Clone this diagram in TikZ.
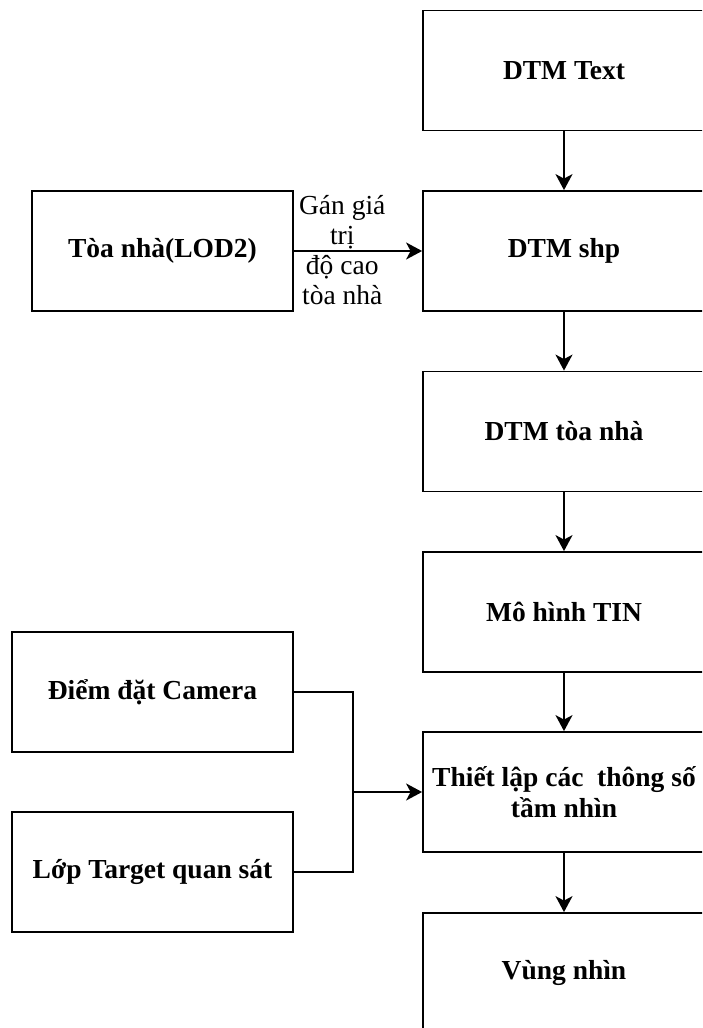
\documentclass[tikz,border=0pt]{standalone}
\usepackage{fontspec}
\setmainfont{Liberation Serif}
\usetikzlibrary{arrows.meta}
\begin{document}
\begin{tikzpicture}[x=1pt,y=-1pt,
  box/.style={draw, line width=1.8pt, minimum width=282pt, minimum height=120pt, inner sep=0pt,
    font=\fontsize{27.5}{31}\selectfont\bfseries, align=center},
  conn/.style={line width=1.8pt, -{Stealth[length=16pt,width=17pt,inset=4.5pt]}},
  line/.style={line width=1.8pt},
  lbl/.style={font=\fontsize{27.5}{30}\selectfont, align=center, inner sep=0pt}
]
\useasboundingbox (0,0) rectangle (702,1028);
\clip (0,0) rectangle (702,1028);
\node[box] (text) at (564,70.5) {DTM Text};
\node[box] (shp) at (564,251) {DTM shp};
\node[box] (dtmtn) at (564,431.5) {DTM tòa nhà};
\node[box] (tin) at (564,612) {Mô hình TIN};
\node[box] (tl) at (564,792) {Thiết lập các\ \ thông số\\tầm nhìn};
\node[box] (vn) at (564,973) {Vùng nhìn};
\node[box, minimum width=261pt] (lod) at (162.5,251) {Tòa nhà(LOD2)};
\node[box, minimum width=281pt] (cam) at (152.5,692) {Điểm đặt Camera};
\node[box, minimum width=281pt] (tgt) at (152.5,872) {Lớp Target quan sát};
\draw[conn] (text) -- (shp);
\draw[conn] (shp) -- (dtmtn);
\draw[conn] (dtmtn) -- (tin);
\draw[conn] (tin) -- (tl);
\draw[conn] (tl) -- (vn);
\draw[conn] (lod) -- node[lbl, pos=0.377, yshift=1pt] {Gán giá\\trị\\độ cao\\tòa nhà} (shp);
\coordinate (j) at (353,792);
\draw[line] (cam.east) -| (j) |- (tgt.east);
\draw[conn] (j) -- (tl.west);
\end{tikzpicture}
\end{document}
